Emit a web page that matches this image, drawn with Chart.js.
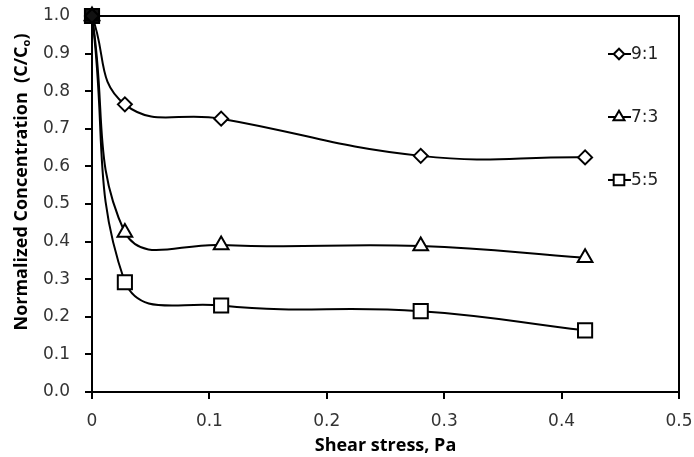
<!DOCTYPE html>
<html>
<head>
<meta charset="utf-8">
<script src="https://cdn.jsdelivr.net/npm/chart.js@4.4.1/dist/chart.umd.min.js"></script>
<style>
  html, body { margin: 0; padding: 0; background: #fff; }
  #wrap { width: 694px; height: 457px; position: relative; }
</style>
</head>
<body>
<div id="wrap"><canvas id="c" width="694" height="457"></canvas></div>
<script>
// Shear stress (Pa) at each sampling point
const shearStress = [0, 0.028, 0.11, 0.28, 0.42];
// Normalized concentration C/Co for each mix ratio
const ratio91 = [1.0, 0.765, 0.727, 0.628, 0.624];
const ratio73 = [1.0, 0.424, 0.391, 0.388, 0.357];
const ratio55 = [1.0, 0.292, 0.230, 0.215, 0.164];
const seriesNames = ['9:1', '7:3', '5:5'];
const xTicks = [0, 0.1, 0.2, 0.3, 0.4, 0.5];
const yTicks = [0.0, 0.1, 0.2, 0.3, 0.4, 0.5, 0.6, 0.7, 0.8, 0.9, 1.0];

const TICK_FONT = "'DejaVu Sans', Verdana, sans-serif";
const TITLE_FONT = "'Open Sans', 'Noto Sans', sans-serif";
const pts = (ys) => shearStress.map((x, i) => ({ x: x, y: ys[i] }));

function series(label, ys, style, radius) {
  return {
    label: label,
    data: pts(ys),
    borderColor: '#000',
    borderWidth: 2,
    backgroundColor: '#fff',
    pointStyle: style,
    pointRadius: radius,
    pointBorderWidth: 2,
    pointBorderColor: '#000',
    // the shared starting point renders as a solid block where the markers overlap
    pointBackgroundColor: (c) => (c.dataIndex === 0 ? '#111' : '#fff'),
    tension: 0.45,
    fill: false,
    clip: false
  };
}

// Keep the plot area fixed: no extra room for overhanging tick labels
function noOverhang(scale) {
  scale.paddingTop = 0;
  scale.paddingBottom = 0;
  scale.paddingLeft = 0;
  scale.paddingRight = 0;
}

// Frame around the plot area (top and right edges)
const frame = {
  id: 'frame',
  beforeDatasetsDraw(chart) {
    const { ctx, chartArea: a } = chart;
    ctx.save();
    ctx.strokeStyle = '#000';
    ctx.lineWidth = 2;
    ctx.beginPath();
    ctx.moveTo(a.left, a.top);
    ctx.lineTo(a.right, a.top);
    ctx.lineTo(a.right, a.bottom);
    ctx.stroke();
    ctx.restore();
  }
};

// Vertical axis title with subscript "o"
const yTitle = {
  id: 'yTitle',
  afterDraw(chart) {
    const ctx = chart.ctx;
    const main = 'Normalized Concentration  (C/C';
    const sub = 'o';
    const tail = ')';
    const big = 'bold 18px ' + TITLE_FONT;
    const small = 'bold 11px ' + TITLE_FONT;
    ctx.save();
    ctx.fillStyle = '#000';
    ctx.textBaseline = 'alphabetic';
    ctx.font = big;
    const wMain = ctx.measureText(main).width;
    const wTail = ctx.measureText(tail).width;
    ctx.font = small;
    const wSub = ctx.measureText(sub).width;
    const total = wMain + wSub + wTail;
    ctx.translate(27, 182);
    ctx.rotate(-Math.PI / 2);
    let x = -total / 2;
    ctx.font = big;
    ctx.fillText(main, x, 0);
    x += wMain;
    ctx.font = small;
    ctx.fillText(sub, x, 3);
    x += wSub;
    ctx.font = big;
    ctx.fillText(tail, x, 0);
    ctx.restore();
  }
};

// Series key on the right, each marker on a short line
const seriesKey = {
  id: 'seriesKey',
  afterDraw(chart) {
    const ctx = chart.ctx;
    const rows = [54, 117, 180];
    ctx.save();
    chart.data.datasets.forEach((ds, i) => {
      const y = rows[i];
      ctx.strokeStyle = '#000';
      ctx.lineWidth = 2;
      ctx.beginPath();
      ctx.moveTo(608, y);
      ctx.lineTo(631, y);
      ctx.stroke();
      ctx.fillStyle = '#fff';
      Chart.helpers.drawPoint(ctx, {
        pointStyle: ds.pointStyle,
        radius: ds.pointRadius * 0.75,
        borderWidth: 2,
        rotation: 0
      }, 619, y);
      ctx.fillStyle = '#222';
      ctx.font = '17px ' + TICK_FONT;
      ctx.textBaseline = 'middle';
      ctx.fillText(ds.label, 631, y + 1);
    });
    ctx.restore();
  }
};

new Chart(document.getElementById('c'), {
  type: 'line',
  data: {
    datasets: [
      series(seriesNames[0], ratio91, 'rectRot', 7),
      series(seriesNames[1], ratio73, 'triangle', 8.5),
      series(seriesNames[2], ratio55, 'rect', 10)
    ]
  },
  options: {
    responsive: false,
    animation: false,
    devicePixelRatio: 1,
    layout: { padding: { left: 0, top: 16, right: 15, bottom: 0 } },
    plugins: {
      legend: { display: false },
      tooltip: { enabled: false }
    },
    scales: {
      x: {
        type: 'linear',
        min: 0,
        max: 0.5,
        afterBuildTicks(scale) { scale.ticks = xTicks.map(v => ({ value: v })); },
        afterFit(scale) { scale.height = 65; noOverhang(scale); },
        grid: { display: true, drawOnChartArea: false, drawTicks: true, tickLength: 7, color: '#000', lineWidth: 2 },
        border: { display: true, color: '#000', width: 2 },
        ticks: {
          color: '#333',
          font: { family: TICK_FONT, size: 17 },
          padding: 12,
          maxRotation: 0,
          callback: (v) => (v === 0 ? '0' : String(Math.round(v * 10) / 10))
        },
        title: {
          display: true,
          text: 'Shear stress, Pa',
          color: '#000',
          font: { family: TITLE_FONT, size: 18, weight: 'bold' },
          padding: { top: 0, bottom: 0 }
        }
      },
      y: {
        type: 'linear',
        min: 0,
        max: 1.0,
        afterBuildTicks(scale) { scale.ticks = yTicks.map(v => ({ value: v })); },
        afterFit(scale) { scale.width = 92; noOverhang(scale); },
        grid: { display: true, drawOnChartArea: false, drawTicks: true, tickLength: 7, color: '#000', lineWidth: 2 },
        border: { display: true, color: '#000', width: 2 },
        ticks: {
          color: '#333',
          font: { family: TICK_FONT, size: 17 },
          padding: 15,
          callback: (v) => v.toFixed(1)
        }
      }
    }
  },
  plugins: [frame, yTitle, seriesKey]
});
</script>
</body>
</html>
